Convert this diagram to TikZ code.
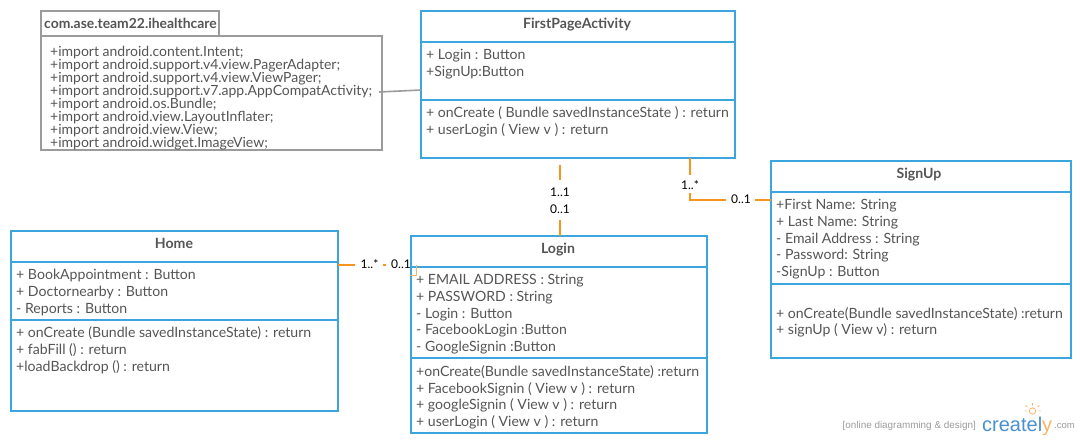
\documentclass[tikz,border=0pt]{standalone}
\usepackage{fontspec}
\setmainfont{Lato}
\newfontfamily\logofont{Liberation Sans}
\definecolor{umlblue}{HTML}{3AA6DD}
\definecolor{umlorange}{HTML}{F7931E}
\definecolor{umlgrey}{HTML}{9B9B9B}
\definecolor{txt}{HTML}{555555}
\definecolor{logoblue}{HTML}{4A90D0}
\definecolor{logoorange}{HTML}{F9B266}
\tikzset{
  classbox/.style={draw=umlblue,line width=1.6pt,fill=white,inner sep=0pt,outer sep=0pt,anchor=north west},
  pkgbox/.style={draw=umlgrey,line width=1.6pt,fill=white,inner sep=0pt,outer sep=0pt,anchor=north west},
  divider/.style={draw=umlblue,line width=1.6pt},
  title/.style={font=\fontsize{14.1}{15}\selectfont\bfseries,text=txt,inner sep=0pt},
  member/.style={font=\fontsize{14.1}{17}\selectfont,text=txt,inner sep=0pt,anchor=base west,align=left},
  importtext/.style={font=\fontsize{14}{13}\selectfont,text=txt,inner sep=0pt,anchor=north west,align=left},
  mult/.style={font=\fontsize{12}{13}\selectfont,text=black,inner sep=0pt},
  assoc/.style={draw=umlorange,line width=1.6pt},
  note/.style={draw=umlgrey,line width=1.6pt},
  ray/.style={draw=logoorange,line width=0.8pt},
}
\newcommand{\classrect}[5]{\node[classbox,minimum width=#4pt,minimum height=#5pt] (#1) at (#2,#3) {};}
\begin{document}
\begin{tikzpicture}[x=1pt,y=-1pt]
\useasboundingbox (0,0) rectangle (1080,440);
% package
\node[pkgbox,minimum width=178pt,minimum height=25pt] (pkgtab) at (41,11) {};
\node[pkgbox,minimum width=341pt,minimum height=114pt] (pkg) at (41,36) {};
\node[title,anchor=base west,font=\fontsize{13.9}{15}\selectfont\bfseries] (pkgname) at (44,28) {com.ase.team22.ihealthcare};
\node[importtext,anchor=north west] (imports) at (50,45.5) {+import android.content.Intent;\\+import android.support.v4.view.PagerAdapter;\\+import android.support.v4.view.ViewPager;\\+import android.support.v7.app.AppCompatActivity;\\+import android.os.Bundle;\\+import android.view.LayoutInflater;\\+import android.view.View;\\+import android.widget.ImageView;};
% classes
\classrect{fpa}{421}{11}{314}{147}
\draw[divider] (421,42) -- (735,42) (421,100) -- (735,100);
\node[title] (fpat) at (577,25) {FirstPageActivity};
\node[member] (fpa1) at (426,59) {+ Login : Button};
\node[member] (fpa2) at (426,76) {+SignUp:Button};
\node[member] (fpa3) at (426,117) {+ onCreate ( Bundle savedInstanceState ) : return};
\node[member] (fpa4) at (426,134) {+ userLogin ( View v ) : return};
\classrect{signup}{771}{161}{300}{197}
\draw[divider] (771,192) -- (1071,192) (771,284) -- (1071,284);
\node[title] (signupt) at (919,175) {SignUp};
\node[member] (s1) at (776,209) {+First Name: String};
\node[member] (s2) at (776,226) {+ Last Name: String};
\node[member] (s3) at (776,243) {- Email Address : String};
\node[member] (s4) at (776,259) {- Password: String};
\node[member] (s5) at (776,276) {-SignUp : Button};
\node[member] (s6) at (776,318) {+ onCreate(Bundle savedInstanceState) :return};
\node[member] (s7) at (776,334) {+ signUp ( View v) : return};
\classrect{login}{411}{236}{296}{197}
\draw[divider] (411,267) -- (707,267) (411,358) -- (707,358);
\node[title] (logint) at (558,250) {Login};
\node[member] (l1) at (416,284) {+ EMAIL ADDRESS : String};
\node[member] (l2) at (416,301) {+ PASSWORD : String};
\node[member] (l3) at (416,318) {- Login : Button};
\node[member] (l4) at (416,334) {- FacebookLogin :Button};
\node[member] (l5) at (416,351) {- GoogleSignin :Button};
\node[member] (l6) at (416,376) {+onCreate(Bundle savedInstanceState) :return};
\node[member] (l7) at (416,393) {+ FacebookSignin ( View v ) : return};
\node[member] (l8) at (416,409) {+ googleSignin ( View v ) : return};
\node[member] (l9) at (416,426) {+ userLogin ( View v ) : return};
\classrect{home}{11}{231}{327}{180}
\draw[divider] (11,262) -- (338,262) (11,320) -- (338,320);
\node[title] (homet) at (174,243) {Home};
\node[member] (h1) at (16,279) {+ BookAppointment : Button};
\node[member] (h2) at (16,296) {+ Doctornearby : Button};
\node[member] (h3) at (16,313) {- Reports : Button};
\node[member] (h4) at (16,337) {+ onCreate (Bundle savedInstanceState) : return};
\node[member] (h5) at (16,354) {+ fabFill () : return};
\node[member] (h6) at (16,371) {+loadBackdrop () : return};
% multiplicities
\node[mult] (m11) at (560,192) {1..1};
\node[mult] (m01) at (560,209) {0..1};
\node[mult] (m1s) at (690,185) {1..*};
\node[mult] (m01b) at (741,199.5) {0..1};
\node[mult] (m1h) at (369.5,264.5) {1..*};
\node[mult] (m01h) at (401,264.5) {0..1};
% connectors
\coordinate (nstart) at (379,92);
\draw[note] (nstart) -- (fpa.west |- 0,90);
\coordinate (a1) at (560,165); \coordinate (a2) at (560,180);
\draw[assoc] (a1) -- (a2);
\coordinate (a3) at (560,220);
\draw[assoc] (a3) -- (login.north -| a3);
\coordinate (b1) at (690,175);
\draw[assoc] (fpa.south -| b1) -- (b1);
\coordinate (b2) at (690,193);
\coordinate (b3) at (726,200);
\draw[assoc] (b2) -- (b2 |- b3) -- (b3);
\coordinate (b4) at (755,200);
\draw[assoc] (b4) -- (signup.west |- b4);
\coordinate (c1) at (355,265);
\draw[assoc] (home.east |- c1) -- (c1);
\coordinate (c2) at (383,265); \coordinate (c3) at (386,265);
\draw[assoc] (c2) -- (c3);
% stray resize mark on Login
\coordinate (d1) at (416,265); \coordinate (d2) at (416,275); \coordinate (d3) at (410,275);
\draw[umlorange!70,line width=0.5pt] (d1) -- (d2) -- (d3);
% logo
\node[font=\fontsize{9.9}{11}\selectfont\logofont,text=umlgrey,inner sep=0pt,anchor=base east] (tag) at (976,428.5) {[online diagramming \& design]};
\node[font=\fontsize{20}{24}\selectfont\logofont,text=logoblue,inner sep=0pt,anchor=base west] (logo) at (982,431) {createl\textcolor{logoorange}{y}};
\node[font=\fontsize{9.5}{11}\selectfont\logofont,text=umlgrey,inner sep=0pt,anchor=base west] (com) at (1054,428.5) {.com};
\draw[ray] (1032.5,411) circle (3.2);
\draw[ray] (1032.5,403) -- (1032.5,405.5) (1025.5,405.5) -- (1027.5,407) (1039.5,405.5) -- (1037.5,407) (1024.5,411) -- (1026.5,411) (1040.5,411) -- (1038.5,411);
\end{tikzpicture}
\end{document}
